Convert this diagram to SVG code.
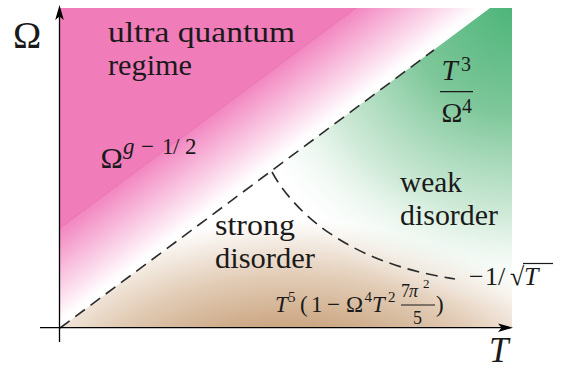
<svg xmlns="http://www.w3.org/2000/svg" width="564" height="369" viewBox="0 0 564 369">
<style>
.i{font-style:italic}
.dash{fill:none;stroke:#2b2b2b;stroke-width:1.6;stroke-dasharray:12 7}
.ax{fill:none;stroke:#000;stroke-width:1.3}
</style>
<defs>
<linearGradient id="pinkG" gradientUnits="userSpaceOnUse" x1="12.1" y1="263.7" x2="60" y2="328">
<stop offset="0" stop-color="#F286C0"/>
<stop offset="0.93" stop-color="#FFFFFF"/>
</linearGradient>
<radialGradient id="tanG" gradientUnits="userSpaceOnUse" cx="0" cy="0" r="1" gradientTransform="translate(290 420) scale(320 200)">
<stop offset="0.45" stop-color="#CAA47F"/>
<stop offset="0.72" stop-color="#E2CCB6"/>
<stop offset="1.08" stop-color="#FFFFFF"/>
</radialGradient>
<radialGradient id="greenG" gradientUnits="userSpaceOnUse" cx="512" cy="8" r="300">
<stop offset="0" stop-color="#4DB579" stop-opacity="1"/>
<stop offset="0.35" stop-color="#7EC79A" stop-opacity="1"/>
<stop offset="0.7" stop-color="#CDE9D6" stop-opacity="0.9"/>
<stop offset="1" stop-color="#FFFFFF" stop-opacity="0"/>
</radialGradient>
</defs>
<g id="regions">
<polygon points="60,8 490,8 60,328" fill="url(#pinkG)"/>
<polygon points="60,8 356,8 60,228" fill="#F07CB9"/>
<line x1="60" y1="228" x2="356" y2="8" stroke="#E86AAA" stroke-width="0.8" opacity="0.6"/>
<polygon points="60,328 490,8 512,8 512,328" fill="url(#tanG)"/>
<polygon points="60,328 490,8 512,8 512,328" fill="url(#greenG)"/>
</g>
<g id="connectors">
<line class="dash" x1="60" y1="328" x2="434" y2="50"/>
<path class="dash" d="M272,172 C290,205 340,262 455,279"/>
</g>
<g font-family="Liberation Serif, Times New Roman, Times, DejaVu Serif, serif" fill="#1a1a1a">
<g id="axes">
<line class="ax" x1="59.5" y1="14" x2="59.5" y2="342"/>
<line class="ax" x1="40" y1="327.7" x2="504" y2="327.7"/>
<path d="M59.5,5 L63.8,20 L59.5,16.5 L55.2,20 Z" fill="#000"/>
<path d="M513,327.7 L498,323.4 L501.5,327.7 L498,332 Z" fill="#000"/>
<text x="13" y="48" font-size="38">Ω</text>
<text class="i" x="489" y="362" font-size="35">T</text>
</g>
<g id="ultra-quantum">
<text x="108" y="41.7" font-size="30" textLength="187" lengthAdjust="spacingAndGlyphs">ultra quantum</text>
<text x="108" y="75" font-size="30" textLength="84" lengthAdjust="spacingAndGlyphs">regime</text>
</g>
<g id="omega-label">
<text x="100.5" y="168.3" font-size="30">Ω</text>
<text font-size="23" y="153.5"><tspan class="i" x="123">g</tspan><tspan x="141">−</tspan><tspan x="162">1</tspan><tspan x="173">/</tspan><tspan x="185">2</tspan></text>
</g>
<g id="weak-disorder">
<text x="400" y="191.7" font-size="29" textLength="62" lengthAdjust="spacingAndGlyphs">weak</text>
<text x="400" y="225" font-size="29" textLength="98" lengthAdjust="spacingAndGlyphs">disorder</text>
</g>
<g id="strong-disorder">
<text x="215" y="235" font-size="29" textLength="80" lengthAdjust="spacingAndGlyphs">strong</text>
<text x="215" y="268" font-size="29" textLength="100" lengthAdjust="spacingAndGlyphs">disorder</text>
</g>
<g id="weak-formula">
<text class="i" x="441.5" y="80" font-size="29">T</text>
<text x="461" y="71" font-size="20">3</text>
<line x1="440" y1="91.7" x2="473" y2="91.7" stroke="#1a1a1a" stroke-width="1.2"/>
<text x="441.5" y="121.7" font-size="28">Ω</text>
<text x="462" y="113" font-size="20">4</text>
</g>
<g id="strong-formula">
<text font-size="23" y="311.7"><tspan class="i" x="275">T</tspan><tspan x="300">(</tspan><tspan x="311">1</tspan><tspan x="327">−</tspan><tspan x="346">Ω</tspan><tspan class="i" x="372">T</tspan><tspan x="436">)</tspan></text>
<text font-size="15" y="302"><tspan x="288">5</tspan><tspan x="364.5">4</tspan><tspan x="388">2</tspan></text>
<text font-size="18" y="297"><tspan x="401">7</tspan><tspan class="i" x="409">π</tspan></text>
<text x="423" y="288" font-size="13">2</text>
<line x1="401" y1="305" x2="435" y2="305" stroke="#1a1a1a" stroke-width="1"/>
<text x="413" y="324" font-size="18">5</text>
</g>
<g id="separatrix-label">
<text font-size="26" y="285"><tspan x="469">−</tspan><tspan x="485">1</tspan><tspan x="498">/</tspan><tspan x="510">√</tspan><tspan class="i" x="524">T</tspan></text>
<line x1="523" y1="263.5" x2="553" y2="263.5" stroke="#1a1a1a" stroke-width="1.2"/>
</g>
</g>
</svg>
